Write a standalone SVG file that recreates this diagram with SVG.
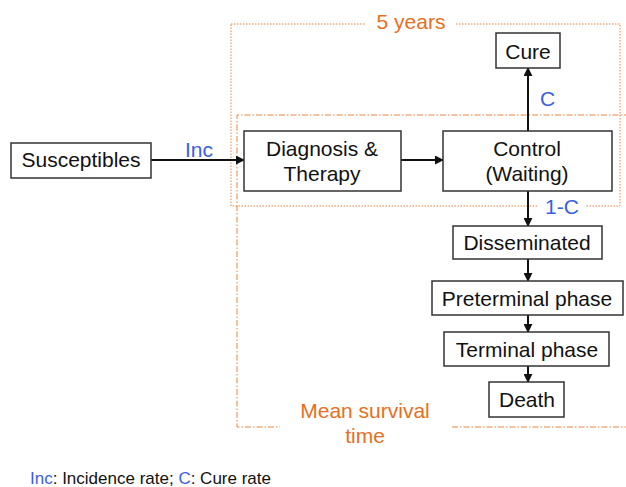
<svg xmlns="http://www.w3.org/2000/svg" width="626" height="487" viewBox="0 0 626 487">
<style>
text{font-family:"Liberation Sans",Arial,sans-serif;font-size:21px;fill:#111}
.box{fill:#fff;stroke:#333;stroke-width:1.5}
.or{fill:#E66F22}
.bl{fill:#3A5FDF}
.con{stroke:#111;stroke-width:2;fill:none;marker-end:url(#ah)}
.mask{fill:#fff;stroke:none}
</style>
<defs>
<marker id="ah" viewBox="0 0 10 10" refX="9" refY="5" markerWidth="4.5" markerHeight="4.5" orient="auto" markerUnits="strokeWidth">
<path d="M0,0 L10,5 L0,10 z" fill="#111"/>
</marker>
</defs>
<rect width="626" height="487" fill="#fff"/>
<g id="frame-5years">
<rect x="231" y="24" width="389" height="182" fill="none" stroke="#E8853F" stroke-width="1" stroke-dasharray="1.5,1.5"/>
<rect class="mask" x="366" y="12" width="90" height="22"/>
<text class="or" x="411" y="29" text-anchor="middle">5 years</text>
</g>
<g id="frame-survival">
<path d="M630,115 H237 V427 H630" fill="none" stroke="#E8853F" stroke-width="1" stroke-dasharray="6,2,1.5,2"/>
<rect class="mask" x="280" y="400" width="172" height="47"/>
<text class="or" x="365" y="418" text-anchor="middle">Mean survival</text>
<text class="or" x="365" y="443" text-anchor="middle">time</text>
</g>
<g id="connectors">
<line class="con" x1="151" y1="160" x2="244" y2="160"/>
<line class="con" x1="401" y1="160" x2="443" y2="160"/>
<line class="con" x1="528" y1="131" x2="528" y2="68"/>
<line class="con" x1="528" y1="191" x2="528" y2="226"/>
<line class="con" x1="528" y1="259" x2="528" y2="281"/>
<line class="con" x1="528" y1="315" x2="528" y2="332"/>
<line class="con" x1="528" y1="366" x2="528" y2="382"/>
<text class="bl" x="185" y="157">Inc</text>
<text class="bl" x="540" y="106">C</text>
<rect class="mask" x="537" y="200" width="48" height="12"/>
<text class="bl" x="545" y="214">1-C</text>
</g>
<g id="susceptibles">
<rect class="box" x="11" y="143" width="140" height="35"/>
<text x="81" y="167" text-anchor="middle">Susceptibles</text>
</g>
<g id="diagnosis">
<rect class="box" x="244" y="131" width="157" height="60"/>
<text x="322" y="156" text-anchor="middle">Diagnosis &amp;</text>
<text x="322" y="181" text-anchor="middle">Therapy</text>
</g>
<g id="control">
<rect class="box" x="443" y="131" width="169" height="60"/>
<text x="527" y="156" text-anchor="middle">Control</text>
<text x="527" y="181" text-anchor="middle">(Waiting)</text>
</g>
<g id="cure">
<rect class="box" x="496" y="33" width="64" height="35"/>
<text x="528" y="59" text-anchor="middle">Cure</text>
</g>
<g id="disseminated">
<rect class="box" x="453" y="226" width="149" height="33"/>
<text x="527" y="250" text-anchor="middle">Disseminated</text>
</g>
<g id="preterminal">
<rect class="box" x="432" y="281" width="191" height="34"/>
<text x="527" y="306" text-anchor="middle">Preterminal phase</text>
</g>
<g id="terminal">
<rect class="box" x="444" y="332" width="165" height="34"/>
<text x="527" y="357" text-anchor="middle">Terminal phase</text>
</g>
<g id="death">
<rect class="box" x="489" y="382" width="75" height="35"/>
<text x="527" y="407" text-anchor="middle">Death</text>
</g>
<g id="legend">
<text x="30" y="484" style="font-size:17px"><tspan class="bl">Inc</tspan>: Incidence rate; <tspan class="bl">C</tspan>: Cure rate</text>
</g>
</svg>
